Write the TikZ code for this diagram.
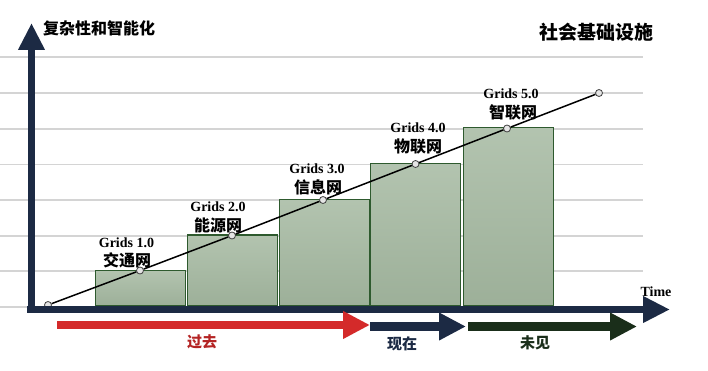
\documentclass[tikz,border=0pt]{standalone}
\usepackage{fontspec}
\setmainfont{Liberation Serif}
\newfontfamily\cjk{Noto Sans CJK SC}
\usetikzlibrary{arrows.meta}
\definecolor{navy}{HTML}{1C2A44}
\definecolor{darkgreen}{HTML}{1A2E1A}
\definecolor{redarrow}{HTML}{D42A2A}
\definecolor{barfill}{HTML}{A5B9A1}
\definecolor{barline}{HTML}{2E5A2E}
\definecolor{gridgray}{HTML}{D4D4D4}
\tikzset{
  gridline/.style={draw=gridgray, line width=1.2pt},
  barbox/.style={draw=barline, line width=1.2pt, top color=barfill!85!white, bottom color=barfill!95!black, anchor=south west, inner sep=0pt, minimum width=90pt},
  dot/.style={circle, draw=black!75, fill=black!10, line width=0.8pt, inner sep=0pt, minimum size=7pt},
  gridslabel/.style={font=\bfseries\fontsize{14}{14}\selectfont, inner sep=0pt},
  cjklabel/.style={font=\cjk\bfseries\fontsize{16}{16}\selectfont, inner sep=0pt},
  axisarrow/.style={draw=navy, line width=7.5pt, -{Triangle[length=27pt,width=25pt]}},
  timearrow/.style={line width=8.5pt, -{Triangle[length=27pt,width=26pt]}},
}
\begin{document}
\begin{tikzpicture}[x=1pt,y=-1pt]
\useasboundingbox (0,0) rectangle (708,371);
% grid lines
\foreach \yy in {57,93,129,164.5,200,236,271,307}
  \draw[gridline] (0,\yy) -- (643,\yy);
% bars
\node[barbox, minimum height=35pt] (b1) at (95,306) {};
\node[barbox, minimum height=70.5pt] (b2) at (187,306) {};
\node[barbox, minimum height=106pt] (b3) at (279,306) {};
\node[barbox, minimum height=142pt] (b4) at (370,306) {};
\node[barbox, minimum height=178pt] (b5) at (463,306) {};
% trend points
\node[dot] (p0) at (48,305) {};
\node[dot] (p1) at (140,270.5) {};
\node[dot] (p2) at (232,235.5) {};
\node[dot] (p3) at (323,200) {};
\node[dot] (p4) at (415.5,164) {};
\node[dot] (p5) at (507,128.5) {};
\node[dot] (p6) at (599,93) {};
\draw[black, line width=1.5pt] (p0) -- (p1) -- (p2) -- (p3) -- (p4) -- (p5) -- (p6);
% labels
\node[gridslabel] (g1) at (126.5,243) {Grids 1.0};
\node[cjklabel] (c1) at (127,260) {交通网};
\node[gridslabel] (g2) at (218,207) {Grids 2.0};
\node[cjklabel] (c2) at (218,225) {能源网};
\node[gridslabel] (g3) at (317,169) {Grids 3.0};
\node[cjklabel] (c3) at (318,187) {信息网};
\node[gridslabel] (g4) at (418,128) {Grids 4.0};
\node[cjklabel] (c4) at (418,147) {物联网};
\node[gridslabel] (g5) at (511,94) {Grids 5.0};
\node[cjklabel] (c5) at (513,112) {智联网};
% axes
\coordinate (origin) at (27,309.5);
\coordinate (xend) at (670,309.5);
\coordinate (ybottom) at (31.5,313);
\coordinate (yend) at (31.5,23);
\draw[axisarrow] (ybottom) -- (yend);
\draw[axisarrow, line width=7pt] (origin) -- (xend);
\node[font=\cjk\bfseries\fontsize{16}{16}\selectfont, anchor=west, inner sep=0pt] (ylab) at (43,28) {复杂性和智能化};
\node[font=\cjk\bfseries\fontsize{19}{19}\selectfont, anchor=east, inner sep=0pt] (title) at (654,32) {社会基础设施};
\node[font=\bfseries\fontsize{14}{14}\selectfont, inner sep=0pt] (time) at (656,292) {Time};
% time arrows
\coordinate (r0) at (57,325);
\coordinate (r1) at (370,325);
\coordinate (n0) at (370,326.5);
\coordinate (n1) at (466,326.5);
\coordinate (d0) at (468,326.5);
\coordinate (d1) at (637,326.5);
\draw[timearrow, draw=redarrow] (r0) -- (r1);
\draw[timearrow, draw=navy] (n0) -- (n1);
\draw[timearrow, draw=darkgreen] (d0) -- (d1);
\node[font=\cjk\bfseries\fontsize{15}{15}\selectfont, text=redarrow!85!black, inner sep=0pt] (past) at (202,342) {过去};
\node[font=\cjk\bfseries\fontsize{15}{15}\selectfont, text=navy, inner sep=0pt] (now) at (402,343.5) {现在};
\node[font=\cjk\bfseries\fontsize{15}{15}\selectfont, text=darkgreen, inner sep=0pt] (future) at (535,342.5) {未见};
\end{tikzpicture}
\end{document}
